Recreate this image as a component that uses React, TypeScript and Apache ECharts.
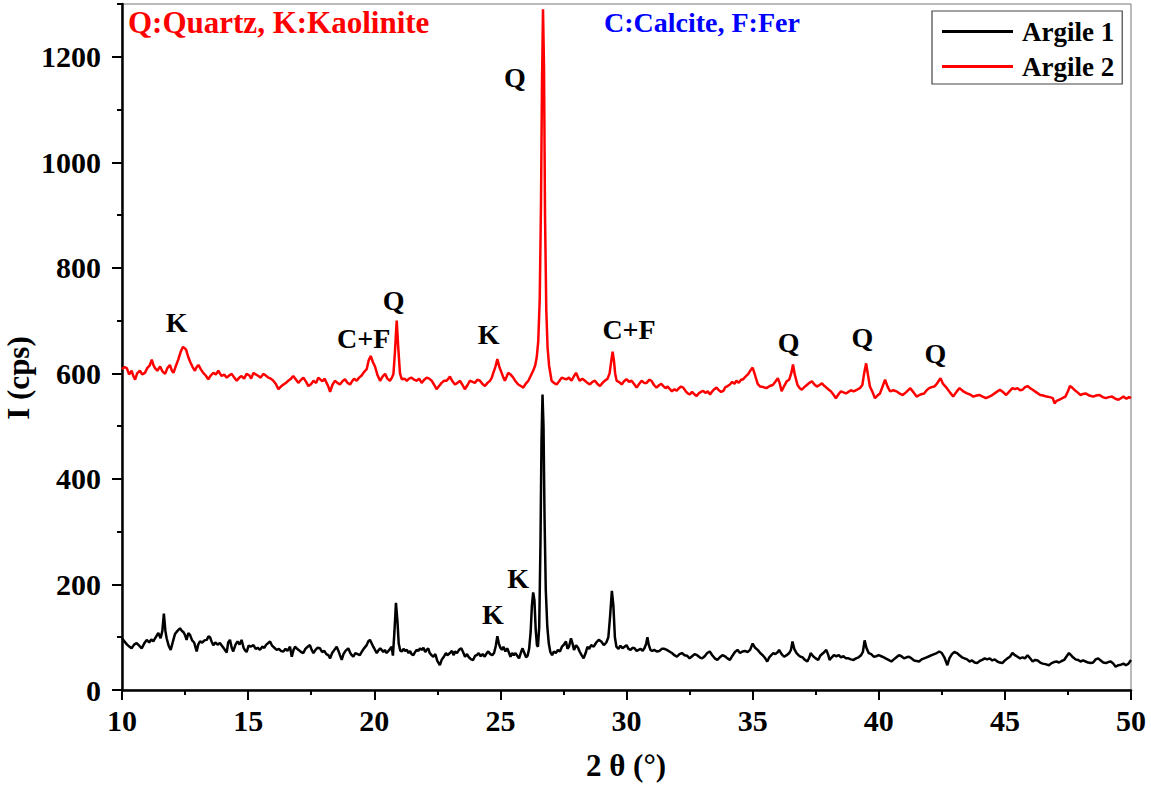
import React, { useEffect, useRef } from "react";
import * as echarts from "echarts";

// XRD patterns: [2θ (°), intensity (cps)]
const argile1: [number, number][] = [
  [10.0,98],[10.1,92],[10.2,86],[10.3,82],[10.38,79],[10.48,86],[10.58,89],[10.68,84],[10.78,79],[10.88,88],
  [10.98,95],[11.08,90],[11.16,96],[11.24,92],[11.34,100],[11.44,108],[11.53,98],[11.6,112],[11.66,145],[11.72,112],
  [11.77,98],[11.85,84],[11.93,76],[12.02,92],[12.1,106],[12.2,112],[12.3,117],[12.37,112],[12.43,110],[12.5,104],
  [12.56,95],[12.63,108],[12.7,104],[12.78,94],[12.86,90],[12.96,73],[13.02,86],[13.09,92],[13.18,90],[13.27,94],
  [13.36,95],[13.43,102],[13.49,100],[13.55,92],[13.62,85],[13.7,90],[13.79,86],[13.88,89],[13.96,84],[14.05,78],
  [14.15,71],[14.21,90],[14.28,95],[14.35,80],[14.41,73],[14.5,86],[14.58,92],[14.66,86],[14.74,95],[14.82,80],
  [14.88,75],[14.94,72],[15.02,84],[15.1,82],[15.21,85],[15.3,78],[15.38,80],[15.47,76],[15.56,82],[15.64,80],
  [15.72,86],[15.8,89],[15.87,92],[15.95,84],[16.04,80],[16.13,76],[16.22,78],[16.3,74],[16.4,73],[16.48,78],
  [16.56,74],[16.66,82],[16.73,63],[16.8,76],[16.86,82],[16.92,79],[17.0,76],[17.1,72],[17.19,70],[17.27,78],
  [17.36,82],[17.45,85],[17.52,76],[17.59,70],[17.67,76],[17.75,80],[17.85,79],[17.93,72],[18.02,74],[18.1,68],
  [18.18,66],[18.25,60],[18.33,70],[18.42,76],[18.51,82],[18.58,74],[18.64,66],[18.71,57],[18.78,68],[18.86,74],
  [18.97,79],[19.05,70],[19.11,66],[19.17,63],[19.25,70],[19.34,68],[19.43,66],[19.5,72],[19.58,78],[19.7,85],
  [19.76,92],[19.83,95],[19.9,88],[19.96,82],[20.03,76],[20.1,70],[20.18,76],[20.24,79],[20.29,76],[20.36,72],
  [20.42,76],[20.49,70],[20.56,74],[20.63,78],[20.69,82],[20.74,65],[20.8,110],[20.86,165],[20.92,130],[20.97,88],
  [21.03,75],[21.09,73],[21.16,78],[21.22,74],[21.29,76],[21.36,70],[21.42,74],[21.48,68],[21.55,66],[21.62,72],
  [21.68,76],[21.75,74],[21.81,79],[21.88,76],[21.95,80],[22.02,72],[22.08,76],[22.14,79],[22.2,70],[22.27,66],
  [22.34,63],[22.42,68],[22.5,55],[22.6,47],[22.68,58],[22.76,63],[22.84,70],[22.9,66],[23.0,70],[23.08,74],
  [23.15,66],[23.2,73],[23.28,70],[23.36,76],[23.45,79],[23.52,72],[23.6,63],[23.68,68],[23.75,62],[23.84,58],
  [23.92,57],[24.0,65],[24.07,66],[24.14,70],[24.22,64],[24.3,68],[24.38,63],[24.46,70],[24.52,73],[24.6,68],
  [24.68,66],[24.75,70],[24.82,84],[24.88,102],[24.94,88],[25.0,80],[25.06,76],[25.12,82],[25.2,73],[25.27,79],
  [25.33,72],[25.4,63],[25.47,70],[25.53,66],[25.6,70],[25.68,64],[25.74,60],[25.82,72],[25.88,79],[25.95,70],
  [26.02,62],[26.08,65],[26.14,78],[26.2,110],[26.25,160],[26.3,185],[26.35,170],[26.4,115],[26.45,85],[26.49,82],
  [26.54,120],[26.59,280],[26.63,470],[26.67,560],[26.71,500],[26.75,330],[26.8,190],[26.86,120],[26.92,88],[26.98,72],
  [27.05,66],[27.12,73],[27.2,70],[27.28,76],[27.36,73],[27.44,82],[27.52,86],[27.6,92],[27.66,78],[27.72,82],
  [27.8,98],[27.86,88],[27.92,76],[28.0,85],[28.08,80],[28.14,73],[28.22,66],[28.3,60],[28.38,70],[28.45,82],
  [28.52,78],[28.6,85],[28.7,82],[28.8,90],[28.9,95],[29.0,92],[29.1,85],[29.2,90],[29.28,100],[29.35,140],
  [29.42,188],[29.48,160],[29.54,100],[29.6,82],[29.68,78],[29.76,84],[29.84,79],[29.92,82],[30.0,85],[30.08,78],
  [30.16,76],[30.24,80],[30.32,79],[30.4,74],[30.48,76],[30.56,78],[30.64,74],[30.72,80],[30.78,88],[30.83,100],
  [30.88,86],[30.95,76],[31.02,74],[31.1,76],[31.2,73],[31.3,74],[31.4,78],[31.5,78],[31.6,76],[31.7,73],
  [31.8,70],[31.9,66],[32.0,63],[32.1,68],[32.2,70],[32.3,66],[32.4,65],[32.5,60],[32.6,64],[32.7,68],
  [32.8,66],[32.9,62],[33.0,60],[33.1,64],[33.2,70],[33.3,73],[33.4,66],[33.5,60],[33.6,57],[33.7,62],
  [33.8,66],[33.9,64],[34.0,60],[34.1,57],[34.2,65],[34.3,72],[34.4,76],[34.5,70],[34.6,73],[34.7,74],
  [34.8,72],[34.9,76],[35.0,88],[35.1,80],[35.2,76],[35.3,70],[35.4,66],[35.5,60],[35.58,54],[35.66,62],
  [35.74,66],[35.82,70],[35.9,68],[36.0,72],[36.05,76],[36.15,68],[36.25,63],[36.35,66],[36.45,70],[36.52,76],
  [36.58,92],[36.65,78],[36.74,70],[36.82,66],[36.9,63],[36.98,62],[37.05,58],[37.17,54],[37.25,62],[37.3,70],
  [37.4,64],[37.5,60],[37.6,57],[37.68,65],[37.8,70],[37.92,76],[38.0,66],[38.05,57],[38.14,62],[38.22,66],
  [38.32,64],[38.42,66],[38.5,62],[38.6,64],[38.7,60],[38.8,60],[38.9,58],[39.0,57],[39.1,60],[39.2,62],
  [39.3,66],[39.37,72],[39.44,94],[39.51,80],[39.6,70],[39.7,68],[39.8,63],[39.9,64],[40.0,66],[40.1,64],
  [40.2,62],[40.27,60],[40.35,58],[40.5,54],[40.6,58],[40.7,62],[40.8,66],[40.9,64],[41.0,60],[41.1,62],
  [41.2,63],[41.3,60],[41.4,56],[41.6,54],[41.7,58],[41.8,60],[41.9,62],[42.0,64],[42.1,66],[42.2,68],
  [42.3,70],[42.4,73],[42.5,70],[42.6,62],[42.72,47],[42.8,60],[42.9,68],[43.0,72],[43.1,70],[43.2,66],
  [43.3,62],[43.4,60],[43.5,58],[43.6,54],[43.7,56],[43.8,52],[43.9,51],[44.0,55],[44.1,57],[44.2,60],
  [44.3,58],[44.4,60],[44.5,56],[44.6,58],[44.7,54],[44.8,52],[44.9,51],[45.0,56],[45.1,60],[45.2,63],
  [45.3,70],[45.4,66],[45.5,63],[45.6,60],[45.7,62],[45.8,60],[45.9,66],[46.0,60],[46.1,54],[46.2,57],
  [46.3,56],[46.4,52],[46.5,50],[46.6,49],[46.75,47],[46.85,51],[46.95,53],[47.05,54],[47.15,52],[47.25,55],
  [47.35,57],[47.45,64],[47.54,70],[47.62,66],[47.7,62],[47.8,58],[47.9,57],[48.0,54],[48.1,56],[48.2,54],
  [48.3,52],[48.4,51],[48.5,52],[48.6,58],[48.7,60],[48.8,56],[48.9,52],[49.0,51],[49.1,53],[49.2,54],
  [49.3,50],[49.39,44],[49.5,47],[49.6,48],[49.7,50],[49.8,47],[49.9,50],[50.0,57],
];

const argile2: [number, number][] = [
  [10.0,608],[10.1,612],[10.19,610],[10.28,598],[10.38,605],[10.45,595],[10.52,588],[10.6,600],[10.71,605],[10.8,598],
  [10.91,601],[11.0,610],[11.1,615],[11.18,626],[11.25,615],[11.31,610],[11.4,605],[11.51,613],[11.6,604],[11.71,599],
  [11.8,610],[11.9,616],[11.97,606],[12.04,601],[12.12,612],[12.23,626],[12.32,640],[12.41,650],[12.48,648],[12.54,645],
  [12.62,632],[12.7,622],[12.8,612],[12.89,605],[12.96,612],[13.03,616],[13.12,608],[13.22,601],[13.32,596],[13.42,589],
  [13.52,596],[13.62,601],[13.72,598],[13.82,605],[13.88,600],[13.95,595],[14.05,598],[14.15,592],[14.25,596],[14.35,599],
  [14.45,592],[14.55,586],[14.65,592],[14.74,595],[14.84,590],[14.94,599],[15.05,596],[15.12,590],[15.21,601],[15.3,598],
  [15.41,595],[15.5,592],[15.6,599],[15.7,596],[15.8,592],[15.9,590],[16.0,586],[16.1,580],[16.2,570],[16.3,575],
  [16.4,579],[16.5,582],[16.59,586],[16.7,590],[16.79,595],[16.9,588],[16.99,582],[17.1,588],[17.19,592],[17.3,584],
  [17.39,576],[17.5,580],[17.59,586],[17.7,582],[17.78,592],[17.85,589],[17.95,585],[18.03,590],[18.11,582],[18.18,575],
  [18.25,565],[18.34,578],[18.44,586],[18.54,582],[18.64,579],[18.74,585],[18.84,589],[18.94,582],[19.04,579],[19.12,585],
  [19.2,590],[19.3,586],[19.4,592],[19.5,596],[19.57,601],[19.64,605],[19.7,608],[19.78,625],[19.86,633],[19.94,622],
  [20.03,613],[20.12,598],[20.23,586],[20.33,594],[20.43,599],[20.52,590],[20.62,586],[20.7,592],[20.76,599],[20.82,640],
  [20.89,700],[20.95,650],[21.02,600],[21.09,589],[21.2,590],[21.29,586],[21.38,590],[21.48,592],[21.58,588],[21.68,586],
  [21.78,590],[21.88,582],[21.98,588],[22.08,592],[22.18,590],[22.28,586],[22.38,578],[22.47,570],[22.57,576],[22.67,582],
  [22.77,586],[22.87,586],[22.94,590],[23.0,594],[23.1,585],[23.2,579],[23.3,582],[23.4,586],[23.5,578],[23.59,570],
  [23.7,578],[23.79,586],[23.9,584],[23.99,582],[24.09,588],[24.19,586],[24.29,580],[24.39,576],[24.49,582],[24.59,586],
  [24.66,592],[24.72,601],[24.8,612],[24.88,627],[24.96,612],[25.05,601],[25.12,592],[25.18,586],[25.25,594],[25.31,601],
  [25.4,598],[25.51,592],[25.6,585],[25.71,579],[25.81,576],[25.91,573],[26.0,580],[26.11,586],[26.2,595],[26.3,605],
  [26.38,615],[26.44,630],[26.5,660],[26.56,740],[26.61,920],[26.65,1150],[26.69,1290],[26.73,1180],[26.77,900],[26.82,720],
  [26.87,650],[26.93,615],[27.03,586],[27.12,582],[27.23,579],[27.33,585],[27.43,592],[27.53,590],[27.63,589],[27.72,592],
  [27.82,586],[27.92,595],[28.0,601],[28.08,592],[28.15,586],[28.25,590],[28.35,586],[28.45,582],[28.55,579],[28.65,584],
  [28.75,586],[28.85,580],[28.95,576],[29.05,582],[29.14,586],[29.25,590],[29.33,600],[29.4,625],[29.45,641],[29.5,625],
  [29.55,600],[29.61,586],[29.7,584],[29.81,579],[29.9,585],[30.0,589],[30.1,584],[30.2,586],[30.3,580],[30.4,573],
  [30.5,580],[30.6,586],[30.7,582],[30.8,582],[30.9,588],[30.99,586],[31.09,578],[31.19,573],[31.3,578],[31.38,580],
  [31.46,576],[31.55,572],[31.63,575],[31.72,570],[31.8,566],[31.9,570],[31.99,567],[32.08,572],[32.16,575],[32.25,573],
  [32.35,566],[32.43,562],[32.51,560],[32.6,565],[32.7,560],[32.78,557],[32.86,562],[32.95,565],[33.04,567],[33.13,563],
  [33.22,566],[33.31,560],[33.4,566],[33.48,570],[33.57,573],[33.66,568],[33.75,565],[33.84,567],[33.92,574],[34.01,576],
  [34.1,579],[34.19,584],[34.28,580],[34.36,586],[34.45,582],[34.54,588],[34.63,589],[34.72,594],[34.83,599],[34.92,606],
  [35.0,611],[35.1,596],[35.2,580],[35.3,575],[35.42,574],[35.55,572],[35.68,576],[35.8,578],[35.9,584],[36.0,591],
  [36.08,580],[36.15,566],[36.25,576],[36.35,585],[36.45,588],[36.53,600],[36.6,617],[36.67,598],[36.78,578],[36.87,572],
  [36.95,569],[37.05,574],[37.15,578],[37.25,582],[37.35,585],[37.45,579],[37.55,575],[37.65,578],[37.75,581],[37.85,576],
  [37.95,572],[38.02,569],[38.1,566],[38.2,560],[38.3,553],[38.4,560],[38.5,566],[38.6,564],[38.7,562],[38.8,565],
  [38.9,568],[39.0,566],[39.1,568],[39.25,572],[39.35,578],[39.42,600],[39.5,619],[39.57,598],[39.65,575],[39.75,565],
  [39.85,553],[39.95,558],[40.05,562],[40.15,575],[40.25,588],[40.35,575],[40.45,566],[40.58,568],[40.7,566],[40.82,562],
  [40.95,559],[41.1,565],[41.25,572],[41.38,564],[41.5,556],[41.65,560],[41.8,562],[41.9,568],[42.0,572],[42.1,574],
  [42.2,575],[42.3,580],[42.38,586],[42.45,591],[42.55,580],[42.7,572],[42.82,564],[42.95,556],[43.08,565],[43.2,572],
  [43.35,566],[43.5,562],[43.62,560],[43.75,556],[43.88,558],[44.0,559],[44.12,556],[44.25,553],[44.38,556],[44.5,559],
  [44.65,564],[44.8,569],[44.92,565],[45.05,559],[45.18,566],[45.3,572],[45.4,570],[45.5,572],[45.6,568],[45.7,569],
  [45.8,574],[45.9,576],[46.0,572],[46.1,569],[46.25,564],[46.4,559],[46.52,558],[46.65,556],[46.78,555],[46.9,553],
  [46.97,543],[47.05,548],[47.15,550],[47.28,553],[47.4,556],[47.5,566],[47.58,576],[47.67,573],[47.75,569],[47.88,564],
  [48.0,559],[48.1,561],[48.2,562],[48.35,558],[48.5,556],[48.62,558],[48.75,559],[48.88,555],[49.0,553],[49.12,555],
  [49.25,556],[49.38,552],[49.5,550],[49.6,553],[49.7,556],[49.82,552],[49.92,555],[50.0,553],
];

// Phase labels, anchored at [2θ, cps]
const phaseLabels2: { name: string; at: [number, number] }[] = [
  { name: "K", at: [12.17, 696] },
  { name: "C+F", at: [19.58, 666] },
  { name: "Q", at: [20.77, 739] },
  { name: "K", at: [24.53, 674] },
  { name: "Q", at: [25.58, 1160] },
  { name: "C+F", at: [30.1, 683] },
  { name: "Q", at: [36.43, 658] },
  { name: "Q", at: [39.35, 668] },
  { name: "Q", at: [42.25, 637] },
];
const phaseLabels1: { name: string; at: [number, number] }[] = [
  { name: "K", at: [25.7, 212] },
  { name: "K", at: [24.7, 144] },
];

const yMajorTicks = [0, 200, 400, 600, 800, 1000, 1200];
const seriesNames = ["Argile 1", "Argile 2"];

const SERIF = "'Liberation Serif', 'Times New Roman', serif";

function labelMarks(list: { name: string; at: [number, number] }[]) {
  return {
    symbol: "circle",
    symbolSize: 1,
    itemStyle: { color: "rgba(0,0,0,0)" },
    label: {
      show: true,
      position: "inside",
      color: "#000",
      fontFamily: SERIF,
      fontWeight: "bold",
      fontSize: 28,
      formatter: (p: any) => p.name,
    },
    data: list.map((l) => ({ name: l.name, coord: l.at })),
  };
}

export default function App() {
  const ref = useRef<HTMLDivElement>(null);

  useEffect(() => {
    if (!ref.current) return;
    const chart = echarts.init(ref.current, undefined, { renderer: "svg" });
    const axisText = { fontFamily: SERIF, fontWeight: "bold", fontSize: 30, color: "#000" };

    chart.setOption({
      animation: false,
      backgroundColor: "#fff",
      grid: {
        left: 122,
        right: 20,
        top: 4,
        bottom: 95,
        show: true,
        borderColor: "#777",
        borderWidth: 1,
        outerBoundsMode: "none",
      },
      legend: {
        left: 932,
        top: 11,
        orient: "vertical",
        data: seriesNames,
        icon: "rect",
        itemWidth: 71,
        itemHeight: 3,
        itemGap: 8,
        padding: [7, 8, 4, 10],
        borderColor: "#444",
        borderWidth: 1.2,
        backgroundColor: "#fff",
        textStyle: { ...axisText, fontSize: 27, padding: [0, 0, 0, 4] },
      },
      xAxis: {
        type: "value",
        min: 10,
        max: 50,
        interval: 5,
        axisLine: { show: true, lineStyle: { color: "#000", width: 2.5 } },
        axisTick: { show: true, length: 10, lineStyle: { color: "#000", width: 2 } },
        minorTick: { show: true, splitNumber: 2, length: 5, lineStyle: { color: "#000", width: 2 } },
        splitLine: { show: false },
        minorSplitLine: { show: false },
        axisLabel: { ...axisText, margin: 15, formatter: (v: number) => String(v) },
      },
      yAxis: [
        {
          type: "value",
          position: "left",
          min: 0,
          max: 1300,
          interval: 100,
          axisLine: { show: true, lineStyle: { color: "#000", width: 2.5 } },
          axisTick: { show: true, length: 5, lineStyle: { color: "#000", width: 2 } },
          axisLabel: { show: false },
          splitLine: { show: false },
        },
        {
          type: "value",
          position: "left",
          offset: 0,
          min: 0,
          max: 1300,
          interval: 100,
          axisLine: { show: false },
          axisTick: { show: true, length: 10, customValues: yMajorTicks, lineStyle: { color: "#000", width: 2 } },
          axisLabel: {
            ...axisText,
            margin: 21,
            customValues: yMajorTicks,
            formatter: (v: number) => String(v),
          },
          splitLine: { show: false },
        },
      ],
      series: [
        {
          name: seriesNames[0],
          type: "line",
          data: argile1,
          symbol: "none",
          lineStyle: { color: "#000", width: 2.5 },
          itemStyle: { color: "#000" },
          markPoint: labelMarks(phaseLabels1),
          z: 3,
        },
        {
          name: seriesNames[1],
          type: "line",
          data: argile2,
          symbol: "none",
          lineStyle: { color: "#ff0000", width: 2.5 },
          itemStyle: { color: "#ff0000" },
          markPoint: labelMarks(phaseLabels2),
          z: 2,
        },
      ],
      graphic: [
        {
          type: "text",
          x: 128,
          y: 22,
          style: {
            text: "Q:Quartz, K:Kaolinite",
            fill: "#ff0000",
            fontFamily: SERIF,
            fontWeight: "bold",
            fontSize: 31,
            verticalAlign: "middle",
          },
        },
        {
          type: "text",
          x: 604,
          y: 22,
          style: {
            text: "C:Calcite, F:Fer",
            fill: "#0000ff",
            fontFamily: SERIF,
            fontWeight: "bold",
            fontSize: 28,
            verticalAlign: "middle",
          },
        },
        {
          type: "text",
          x: 626,
          y: 765,
          style: {
            text: "2 θ (°)",
            fill: "#000",
            fontFamily: SERIF,
            fontWeight: "bold",
            fontSize: 31,
            align: "center",
            verticalAlign: "middle",
          },
        },
        {
          type: "text",
          x: 18,
          y: 378,
          rotation: Math.PI / 2,
          style: {
            text: "I (cps)",
            fill: "#000",
            fontFamily: SERIF,
            fontWeight: "bold",
            fontSize: 31,
            align: "center",
            verticalAlign: "middle",
          },
        },
      ],
    });

    return () => chart.dispose();
  }, []);

  return (
    <div
      ref={ref}
      style={{ position: "absolute", left: 0, top: 0, width: 1151, height: 785 }}
    />
  );
}
